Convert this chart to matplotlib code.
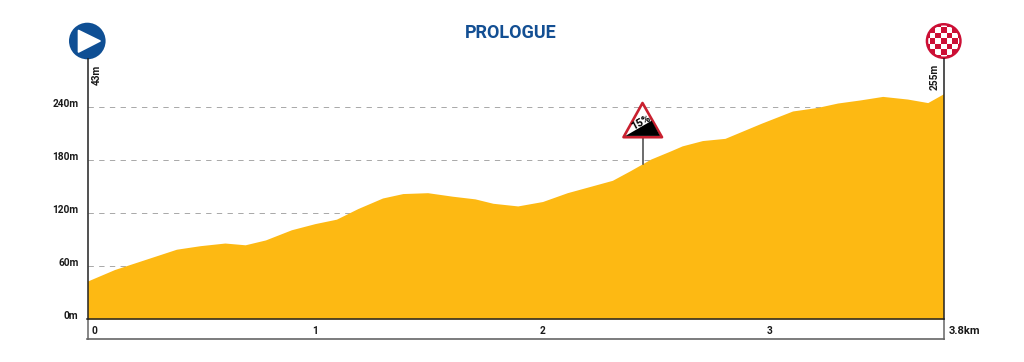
import matplotlib
matplotlib.use("Agg")
import matplotlib.pyplot as plt
from matplotlib.patches import Circle, Polygon, Rectangle

# --- data ---
distance_km = [0, .12, .395, .5, .61, .70, .79, .905, 1.01, 1.105, 1.20, 1.31, 1.40, 1.51, 1.62, 1.72, 1.80, 1.91,
               2.02, 2.13, 2.23, 2.33, 2.41, 2.50, 2.59, 2.64, 2.73, 2.83, 2.99, 3.13, 3.24, 3.33, 3.43, 3.53, 3.64, 3.73, 3.8]
elevation_m = [43, 56, 79, 83, 86, 84, 89.5, 101, 108, 113, 125, 137, 142, 143, 139, 136, 131, 128,
               133, 143, 150, 157, 168, 181, 190.5, 196, 202, 204.5, 221.5, 235.5, 239.5, 244.5, 248, 252, 249, 245, 255]
y_ticks = [0, 60, 120, 180, 240]
y_labels = ["0m", "60m", "120m", "180m", "240m"]
x_label_pos = [0.03, 1.01, 2.02, 3.03]
x_labels = ["0", "1", "2", "3"]
title = "PROLOGUE"
start_label = "43m"
finish_label = "255m"
end_label = "3.8km"
grade_label = "15%"

W, H = 1024, 362
FONT = "Roboto"
plt.rcParams['font.family'] = [FONT, 'DejaVu Sans']
fig = plt.figure(figsize=(W/100, H/100), dpi=100)
fig.patch.set_facecolor("white")

# pixel overlay
ov = fig.add_axes([0, 0, 1, 1], zorder=3)
ov.set_xlim(0, W); ov.set_ylim(H, 0); ov.axis("off"); ov.patch.set_alpha(0)

# main chart axes
x0, x1, y0, ytop = 87.5, 943.5, 319.0, 60.0
ax = fig.add_axes([x0/W, 1-y0/H, (x1-x0)/W, (y0-ytop)/H], zorder=1)
ax.set_xlim(0, 3.8)
ax.set_ylim(0, (y0-ytop)*60/53)
ax.axis("off")
for v in y_ticks[1:]:
    ax.plot([0, 3.8], [v, v], color="#a8a8a8", lw=0.7, dashes=(5.5, 5.5), zorder=1)
ax.fill_between(distance_km, elevation_m, 0, color="#fdb913", lw=0, zorder=2)

# axis frame
ov.plot([87.5, 87.5], [58, 320], color="#222222", lw=1.1, solid_capstyle="butt")
ov.plot([943.5, 943.5], [58, 320], color="#222222", lw=1.1, solid_capstyle="butt")
ov.plot([87.5, 87.5], [320, 339.5], color="#666666", lw=1.1, solid_capstyle="butt")
ov.plot([943.5, 943.5], [320, 339.5], color="#666666", lw=1.1, solid_capstyle="butt")
ov.plot([87, 944], [319.3, 319.3], color="#222222", lw=1.1)
ov.plot([87, 944], [339, 339], color="#666666", lw=1.2)

tk = dict(fontsize=7.3, fontweight="bold", color="#1a1a1a")
for v, s in zip(y_ticks, y_labels):
    px = y0 - v*53/60
    ov.text(78.5, px - 3, s, ha="right", va="center", **tk)
for p, s in zip(x_label_pos, x_labels):
    ov.text(x0 + p*225, 330.5, s, ha="center", va="center", **tk)

ov.text(949, 330.5, end_label, ha="left", va="center", fontsize=8, fontweight="bold", color="#1a1a1a")
ov.text(97, 74.5, start_label, rotation=90, ha="center", va="center", **tk)
ov.text(935, 77, finish_label, rotation=90, ha="center", va="center", **tk)
ov.text(511, 32.5, title, ha="center", va="center", fontsize=13, fontweight="bold", color="#134f93")

# start marker
ov.add_patch(Circle((87.3, 41), 18.3, fc="#0f4f94", ec="none"))
ov.add_patch(Polygon([(78.5, 30.5), (100, 41), (78.5, 52)], closed=True, fc="white", ec="white", lw=1.2, joinstyle="round"))

# finish marker
ov.add_patch(Circle((943.7, 41), 18, fc="#cc0f35", ec="none"))
sq = 5.6
for i in range(-3, 4):
    for j in range(-3, 4):
        if (i + j) % 2 == 1:
            r = Rectangle((943.7 + (i-0.5)*sq, 41 + (j-0.5)*sq), sq, sq, fc="white", ec="none")
            ov.add_patch(r)
            r.set_clip_path(Circle((943.7, 41), 15.5, transform=ov.transData))

# gradient sign
ov.plot([642.7, 642.7], [136, 164], color="#444444", lw=1.1, zorder=2)
tri = [(642.5, 103), (662, 137.2), (623.5, 137.2)]
ov.add_patch(Polygon(tri, closed=True, fc="white", ec="#c9202f", lw=1.9, joinstyle="round", zorder=3))
ov.add_patch(Polygon([(625.5, 135.9), (651.7, 120.7), (660, 135.9)], closed=True, fc="black", ec="none", zorder=4))
ov.text(640.5, 122, grade_label, rotation=28, ha="center", va="center", fontsize=8, fontweight="bold", color="black", zorder=5)

fig.savefig("out.png", dpi=100)
